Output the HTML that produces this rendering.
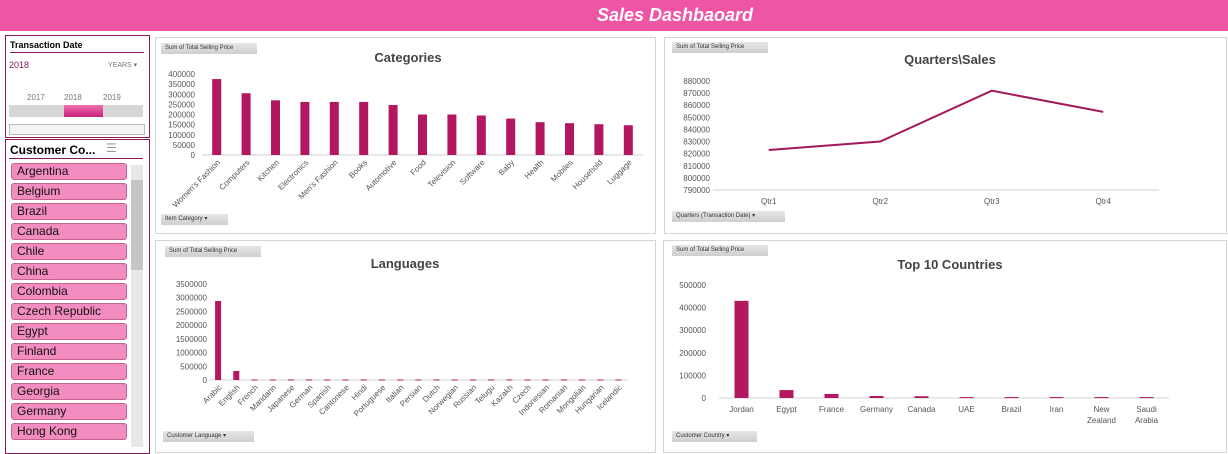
<!DOCTYPE html>
<html><head><meta charset="utf-8">
<style>
body{margin:0;width:1228px;height:454px;background:#fff;position:relative;overflow:hidden;font-family:"Liberation Sans",sans-serif}
.abs{position:absolute}
.panel{position:absolute;border:1px solid #d4d4d4;background:#fff}
.btn{position:absolute;background:linear-gradient(#e6e6e6,#cfcfcf);font-size:6px;color:#333;padding:2px 4px;height:7px;line-height:7px}
.item{position:absolute;left:11px;width:109px;height:15px;background:#f38cc0;border:1px solid #c2648f;border-radius:3px;font-size:12px;line-height:15px;padding-left:5px;color:#111;box-sizing:content-box}
</style></head><body>
<div class="abs" style="left:0;top:0;width:1228px;height:31px;background:#ef55a5"></div>
<div class="abs" style="left:0;top:5px;width:1350px;text-align:center;color:#fff;font-weight:bold;font-style:italic;font-size:18px">Sales Dashbaoard</div>

<div class="abs" style="left:5px;top:35px;width:143px;height:101px;border:1px solid #8b1a5a;background:#fff">
 <div class="abs" style="left:4px;top:4px;font-size:9px;font-weight:bold">Transaction Date</div>
 <div class="abs" style="left:4px;top:16px;width:134px;border-top:1px solid #8b1a5a"></div>
 <div class="abs" style="left:3px;top:24px;font-size:9px;color:#8b1a5a">2018</div>
 <div class="abs" style="left:102px;top:25px;font-size:7px;color:#777">YEARS ▾</div>
 <div class="abs" style="left:21px;top:57px;font-size:8px;color:#777">2017</div>
 <div class="abs" style="left:58px;top:57px;font-size:8px;color:#777">2018</div>
 <div class="abs" style="left:97px;top:57px;font-size:8px;color:#777">2019</div>
 <div class="abs" style="left:3px;top:69px;width:134px;height:12px;background:#d6d6d6"></div>
 <div class="abs" style="left:58px;top:69px;width:39px;height:12px;background:linear-gradient(#f06fb0,#c8207a)"></div>
 <div class="abs" style="left:3px;top:88px;width:134px;height:9px;border:1px solid #bbb;background:#f4f4f4"></div>
</div>

<div class="abs" style="left:5px;top:139px;width:143px;height:313px;border:1px solid #8b1a5a;background:#fff">
 <div class="abs" style="left:4px;top:3px;font-size:12px;font-weight:bold">Customer Co...</div>
 <div class="abs" style="left:100px;top:1px;font-size:12px;color:#999">☰</div>
 <div class="abs" style="left:3px;top:18px;width:134px;border-top:1px solid #8b1a5a"></div>
 <div class="abs" style="left:125px;top:25px;width:12px;height:282px;background:#e8e8e8"></div>
 <div class="abs" style="left:125px;top:40px;width:12px;height:90px;background:#c6c6c6"></div>
</div>
<div id="items"></div>

<div class="panel" style="left:155px;top:37px;width:499px;height:195px"></div>
<div class="panel" style="left:664px;top:37px;width:561px;height:195px"></div>
<div class="panel" style="left:155px;top:240px;width:499px;height:211px"></div>
<div class="panel" style="left:663px;top:240px;width:562px;height:211px"></div>

<div class="btn" style="left:161px;top:43px;width:88px">Sum of Total Selling Price</div>
<div class="btn" style="left:161px;top:214px;width:59px">Item Category ▾</div>
<div class="btn" style="left:672px;top:42px;width:88px">Sum of Total Selling Price</div>
<div class="btn" style="left:672px;top:211px;width:105px">Quarters (Transaction Date) ▾</div>
<div class="btn" style="left:165px;top:246px;width:88px">Sum of Total Selling Price</div>
<div class="btn" style="left:163px;top:431px;width:83px">Customer Language ▾</div>
<div class="btn" style="left:672px;top:245px;width:88px">Sum of Total Selling Price</div>
<div class="btn" style="left:672px;top:431px;width:77px">Customer Country ▾</div>

<svg id="svg" class="abs" style="left:0;top:0" width="1228" height="454" font-family="Liberation Sans, sans-serif"></svg>

<script>
const countries=["Argentina","Belgium","Brazil","Canada","Chile","China","Colombia","Czech Republic","Egypt","Finland","France","Georgia","Germany","Hong Kong"];
const catLabels=["Women's Fashion","Computers","Kitchen","Electronics","Men's Fashion","Books","Automotive","Food","Television","Software","Baby","Health","Mobiles","Household","Luggage"];
const catValues=[375000,305000,270000,262000,262000,262000,247000,200000,200000,195000,180000,162000,157000,152000,147000];
const catTicks=[0,50000,100000,150000,200000,250000,300000,350000,400000];
const qLabels=["Qtr1","Qtr2","Qtr3","Qtr4"];
const qValues=[823000,830000,872000,854500];
const qTicks=[790000,800000,810000,820000,830000,840000,850000,860000,870000,880000];
const langLabels=["Arabic","English","French","Mandarin","Japanese","German","Spanish","Cantonese","Hindi","Portuguese","Italian","Persian","Dutch","Norwegian","Russian","Telugu","Kazakh","Czech","Indonesian","Romanian","Mongolian","Hungarian","Icelandic"];
const langValues=[2880000,330000,20000,20000,20000,20000,20000,20000,20000,20000,20000,20000,20000,20000,20000,20000,20000,20000,20000,20000,20000,20000,20000];
const langTicks=[0,500000,1000000,1500000,2000000,2500000,3000000,3500000];
const topLabels=["Jordan","Egypt","France","Germany","Canada","UAE","Brazil","Iran","New Zealand","Saudi Arabia"];
const topValues=[430000,35000,18000,9000,8000,4000,4000,4000,4000,4000];
const topTicks=[0,100000,200000,300000,400000,500000];

const NS="http://www.w3.org/2000/svg";
const svg=document.getElementById('svg');
function mk(t,a,txt){const e=document.createElementNS(NS,t);for(const k in a)e.setAttribute(k,a[k]);if(txt!==undefined)e.textContent=txt;svg.appendChild(e);return e;}

const it=document.getElementById('items');
countries.forEach((c,i)=>{const d=document.createElement('div');d.className='item';d.style.top=(163+i*20)+'px';d.textContent=c;


it.appendChild(d);});

function title(x,y,t){const e=mk('text',{x:x,y:y,'font-size':13,'font-weight':'bold',fill:'#444','text-anchor':'middle'},t);

}

function barChart(o){
  const y=v=>o.y0-(v-o.min)/(o.max-o.min)*(o.y0-o.y1);
  const x=i=>o.x0+o.step*(i+0.5);
  o.ticks.forEach(t=>{const e=mk('text',{x:o.lx,y:y(t)+3,'font-size':8,fill:'#555','text-anchor':'end'},t);
  
  });
  mk('line',{x1:o.x0,x2:o.x0+o.step*o.labels.length,y1:o.y0,y2:o.y0,stroke:'#d0d0d0'});
  o.values.forEach((v,i)=>{const r=mk('rect',{x:x(i)-o.bw/2,y:y(v),width:o.bw,height:Math.max(1,o.y0-y(v)),fill:'#b3175f'});
  
  });
  o.labels.forEach((l,i)=>{let e;
    if(o.rot){e=mk('text',{x:x(i)+4,y:o.y0+8,'font-size':o.fs,fill:'#555','text-anchor':'end',transform:`rotate(-45 ${x(i)+4} ${o.y0+8})`},l);}
    else{const p=l.split(' ');e=mk('text',{x:x(i),y:o.y0+14,'font-size':o.fs,fill:'#555','text-anchor':'middle'});
      p.forEach((w,j)=>{const s=document.createElementNS(NS,'tspan');s.setAttribute('x',x(i));s.setAttribute('dy',j?11:0);s.textContent=w;e.appendChild(s);});}
    
    });
}
title(408,62,'Categories');
barChart({labels:catLabels,values:catValues,ticks:catTicks,min:0,max:400000,x0:202,step:29.4,y0:155,y1:74,bw:9,lx:195,rot:true,fs:8});
title(405,268,'Languages');
barChart({labels:langLabels,values:langValues,ticks:langTicks,min:0,max:3500000,x0:209,step:18.2,y0:380,y1:284,bw:6,lx:207,rot:true,fs:8});
title(950,269,'Top 10 Countries');
barChart({labels:topLabels,values:topValues,ticks:topTicks,min:0,max:500000,x0:719,step:45,y0:398,y1:285,bw:14,lx:706,rot:false,fs:8});

title(950,64,'Quarters\\Sales');
(function(){
  const min=790000,max=880000,y0=190,y1=81,x0=713,step=111.5;
  const y=v=>y0-(v-min)/(max-min)*(y0-y1), x=i=>x0+step*(i+0.5);
  qTicks.forEach(t=>{const e=mk('text',{x:710,y:y(t)+3,'font-size':8,fill:'#555','text-anchor':'end'},t);
  
  });
  mk('line',{x1:x0,x2:x0+step*4,y1:y0,y2:y0,stroke:'#d0d0d0'});
  const p=mk('polyline',{points:qValues.map((v,i)=>x(i)+','+y(v)).join(' '),fill:'none',stroke:'#a3195b','stroke-width':2});
  
  
  qLabels.forEach((l,i)=>{const e=mk('text',{x:x(i),y:204,'font-size':8,fill:'#555','text-anchor':'middle'},l);
  
  });
})();
</script>
</body></html>
